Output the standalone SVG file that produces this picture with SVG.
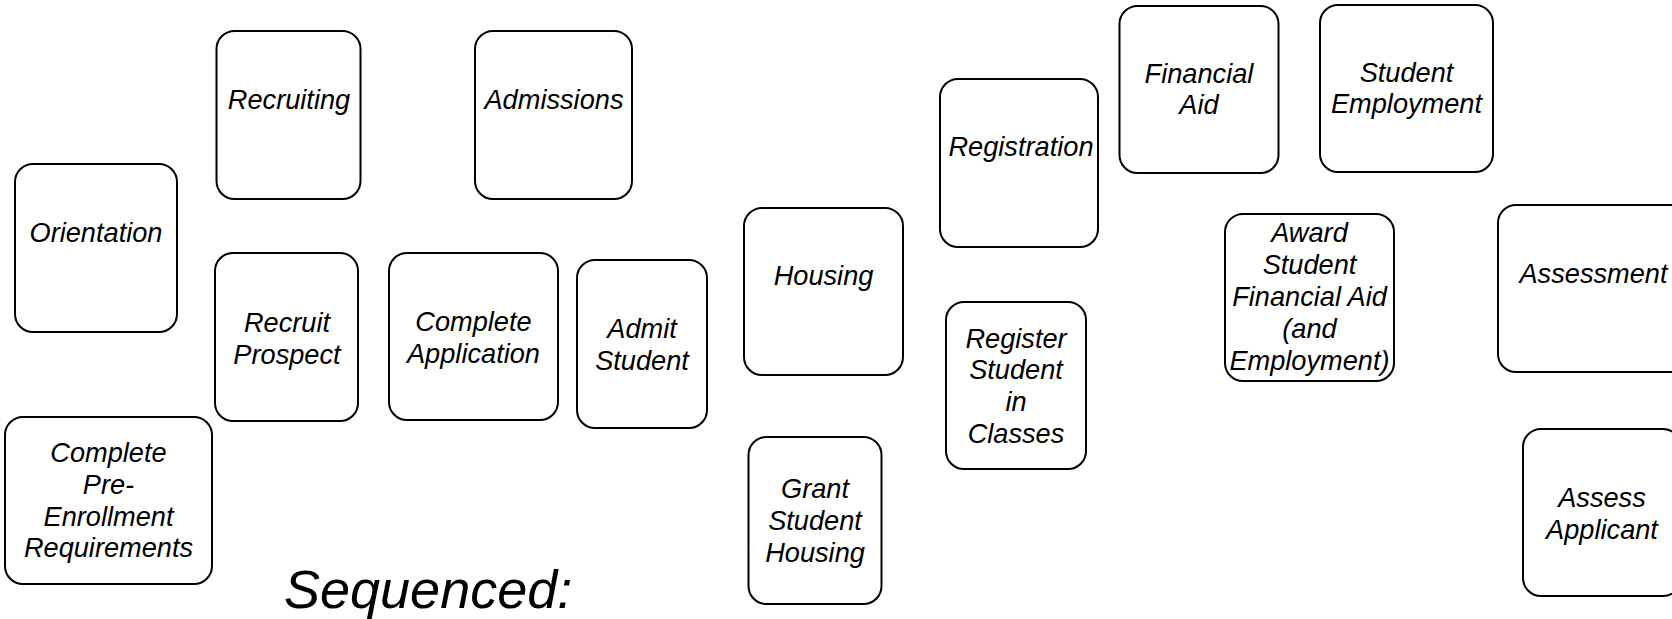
<svg xmlns="http://www.w3.org/2000/svg" width="1672" height="619" viewBox="0 0 1672 619">
<style>
.box{fill:#fff;stroke:#000;stroke-width:2}
.t{font-family:"Liberation Sans",Arial,sans-serif;font-style:italic;font-size:27.2px;fill:#000;text-anchor:middle}
.big{font-family:"Liberation Sans",Arial,sans-serif;font-style:italic;font-size:54px;fill:#000}
</style>
<rect width="1672" height="619" fill="#fff"/>
<g id="connectors"></g>
<g id="recruiting"><rect class="box" x="216.5" y="31" width="144" height="168" rx="18"/><text class="t" x="289" y="109">Recruiting</text></g>
<g id="admissions"><rect class="box" x="475" y="31" width="157" height="168" rx="18"/><text class="t" x="554" y="109">Admissions</text></g>
<g id="orientation"><rect class="box" x="15" y="164" width="162" height="168" rx="18"/><text class="t" x="96" y="242">Orientation</text></g>
<g id="recruit-prospect"><rect class="box" x="215" y="253" width="143" height="168" rx="18"/><text class="t" x="287" y="332">Recruit</text><text class="t" x="287" y="364">Prospect</text></g>
<g id="complete-application"><rect class="box" x="389" y="253" width="169" height="167" rx="18"/><text class="t" x="473.5" y="331">Complete</text><text class="t" x="473.5" y="363">Application</text></g>
<g id="admit-student"><rect class="box" x="577" y="260" width="130" height="168" rx="18"/><text class="t" x="642" y="338">Admit</text><text class="t" x="642" y="370">Student</text></g>
<g id="pre-enrollment"><rect class="box" x="5" y="417" width="207" height="167" rx="18"/><text class="t" x="108.5" y="462">Complete</text><text class="t" x="108.5" y="494">Pre-</text><text class="t" x="108.5" y="526">Enrollment</text><text class="t" x="108.5" y="557">Requirements</text></g>
<g id="housing"><rect class="box" x="744" y="208" width="159" height="167" rx="18"/><text class="t" x="823.5" y="285">Housing</text></g>
<g id="grant-student-housing"><rect class="box" x="748.5" y="437" width="133" height="167" rx="18"/><text class="t" x="815" y="498">Grant</text><text class="t" x="815" y="530">Student</text><text class="t" x="815" y="562">Housing</text></g>
<g id="registration"><rect class="box" x="940" y="79" width="158" height="168" rx="18"/><text class="t" x="1021" y="156">Registration</text></g>
<g id="register-student"><rect class="box" x="946" y="302" width="140" height="167" rx="18"/><text class="t" x="1016" y="348">Register</text><text class="t" x="1016" y="379">Student</text><text class="t" x="1016" y="411">in</text><text class="t" x="1016" y="443">Classes</text></g>
<g id="financial-aid"><rect class="box" x="1119.5" y="6" width="159" height="167" rx="18"/><text class="t" x="1199" y="83">Financial</text><text class="t" x="1199" y="114">Aid</text></g>
<g id="student-employment"><rect class="box" x="1320" y="5" width="173" height="167" rx="18"/><text class="t" x="1406.5" y="82">Student</text><text class="t" x="1406.5" y="113">Employment</text></g>
<g id="award-aid"><rect class="box" x="1225" y="214" width="169" height="167" rx="18"/><text class="t" x="1309.5" y="242">Award</text><text class="t" x="1309.5" y="274">Student</text><text class="t" x="1309.5" y="306">Financial Aid</text><text class="t" x="1309.5" y="338">(and</text><text class="t" x="1309.5" y="370">Employment)</text></g>
<g id="assessment"><rect class="box" x="1498" y="205" width="190" height="167" rx="18"/><text class="t" x="1593.5" y="283">Assessment</text></g>
<g id="assess-applicant"><rect class="box" x="1523" y="429" width="158" height="167" rx="18"/><text class="t" x="1602" y="507">Assess</text><text class="t" x="1602" y="539">Applicant</text></g>
<text class="big" x="284" y="608">Sequenced:</text>
</svg>
